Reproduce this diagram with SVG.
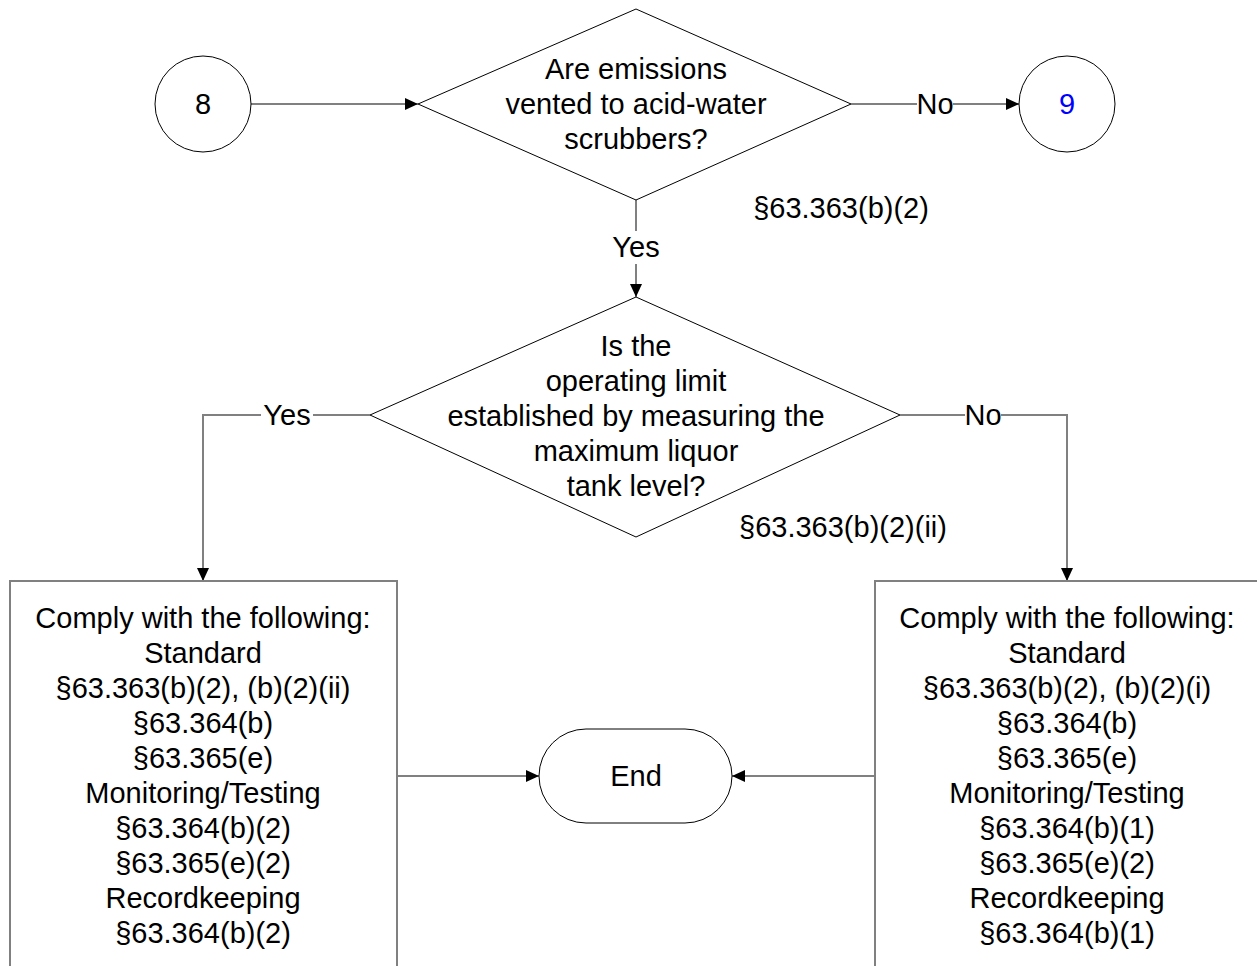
<svg xmlns="http://www.w3.org/2000/svg" width="1257" height="966" viewBox="0 0 1257 966">
<defs>
<marker id="arr" markerUnits="userSpaceOnUse" markerWidth="14" markerHeight="12" refX="13" refY="6" orient="auto">
<path d="M0,0 L13,6 L0,12 z" fill="#000"/>
</marker>
<style>
text{font-family:"Liberation Sans",Arial,sans-serif;font-size:29px;fill:#000;text-anchor:middle}
.shape{fill:#fff;stroke:#000;stroke-width:1}
.box{fill:#fff;stroke:#808080;stroke-width:2}
.conn{fill:none;stroke:#808080;stroke-width:2}
.arr{marker-end:url(#arr)}
</style>
</defs>
<rect width="1257" height="966" fill="#fff"/>
<g id="connectors">
<line class="conn arr" x1="251" y1="104" x2="418" y2="104"/>
<line class="conn" x1="851" y1="104" x2="917" y2="104"/>
<line class="conn arr" x1="953" y1="104" x2="1019" y2="104"/>
<line class="conn" x1="636" y1="200" x2="636" y2="231"/>
<line class="conn arr" x1="636" y1="264" x2="636" y2="297"/>
<polyline class="conn" points="370,415 313,415"/>
<polyline class="conn arr" points="261,415 203,415 203,581"/>
<polyline class="conn" points="900,415 965,415"/>
<polyline class="conn arr" points="1001,415 1067,415 1067,581"/>
<line class="conn arr" x1="397" y1="776" x2="539" y2="776"/>
<line class="conn arr" x1="875" y1="776" x2="732" y2="776"/>
<text x="935" y="114">No</text>
<text x="636" y="257">Yes</text>
<text x="287" y="425">Yes</text>
<text x="983" y="425">No</text>
</g>
<g id="node-8">
<circle class="shape" cx="203" cy="104" r="48"/>
<text x="203" y="114">8</text>
</g>
<g id="node-9">
<circle class="shape" cx="1067" cy="104" r="48"/>
<text x="1067" y="114" style="fill:#0000ff">9</text>
</g>
<g id="decision-1">
<polygon class="shape" points="636,9 851,104 636,200 418,104"/>
<text x="636" y="79">Are emissions</text>
<text x="636" y="114">vented to acid-water</text>
<text x="636" y="149">scrubbers?</text>
<text x="841" y="218">§63.363(b)(2)</text>
</g>
<g id="decision-2">
<polygon class="shape" points="636,297 900,415 636,537 370,415"/>
<text x="636" y="356">Is the</text>
<text x="636" y="391">operating limit</text>
<text x="636" y="426">established by measuring the</text>
<text x="636" y="461">maximum liquor</text>
<text x="636" y="496">tank level?</text>
<text x="843" y="537">§63.363(b)(2)(ii)</text>
</g>
<g id="box-left">
<rect class="box" x="10" y="581" width="387" height="400"/>
<text x="203" y="628">Comply with the following:</text>
<text x="203" y="663">Standard</text>
<text x="203" y="698">§63.363(b)(2), (b)(2)(ii)</text>
<text x="203" y="733">§63.364(b)</text>
<text x="203" y="768">§63.365(e)</text>
<text x="203" y="803">Monitoring/Testing</text>
<text x="203" y="838">§63.364(b)(2)</text>
<text x="203" y="873">§63.365(e)(2)</text>
<text x="203" y="908">Recordkeeping</text>
<text x="203" y="943">§63.364(b)(2)</text>
</g>
<g id="box-right">
<rect class="box" x="875" y="581" width="387" height="400"/>
<text x="1067" y="628">Comply with the following:</text>
<text x="1067" y="663">Standard</text>
<text x="1067" y="698">§63.363(b)(2), (b)(2)(i)</text>
<text x="1067" y="733">§63.364(b)</text>
<text x="1067" y="768">§63.365(e)</text>
<text x="1067" y="803">Monitoring/Testing</text>
<text x="1067" y="838">§63.364(b)(1)</text>
<text x="1067" y="873">§63.365(e)(2)</text>
<text x="1067" y="908">Recordkeeping</text>
<text x="1067" y="943">§63.364(b)(1)</text>
</g>
<g id="end">
<rect class="shape" x="539" y="729" width="193" height="94" rx="47" ry="47"/>
<text x="636" y="786">End</text>
</g>
</svg>
